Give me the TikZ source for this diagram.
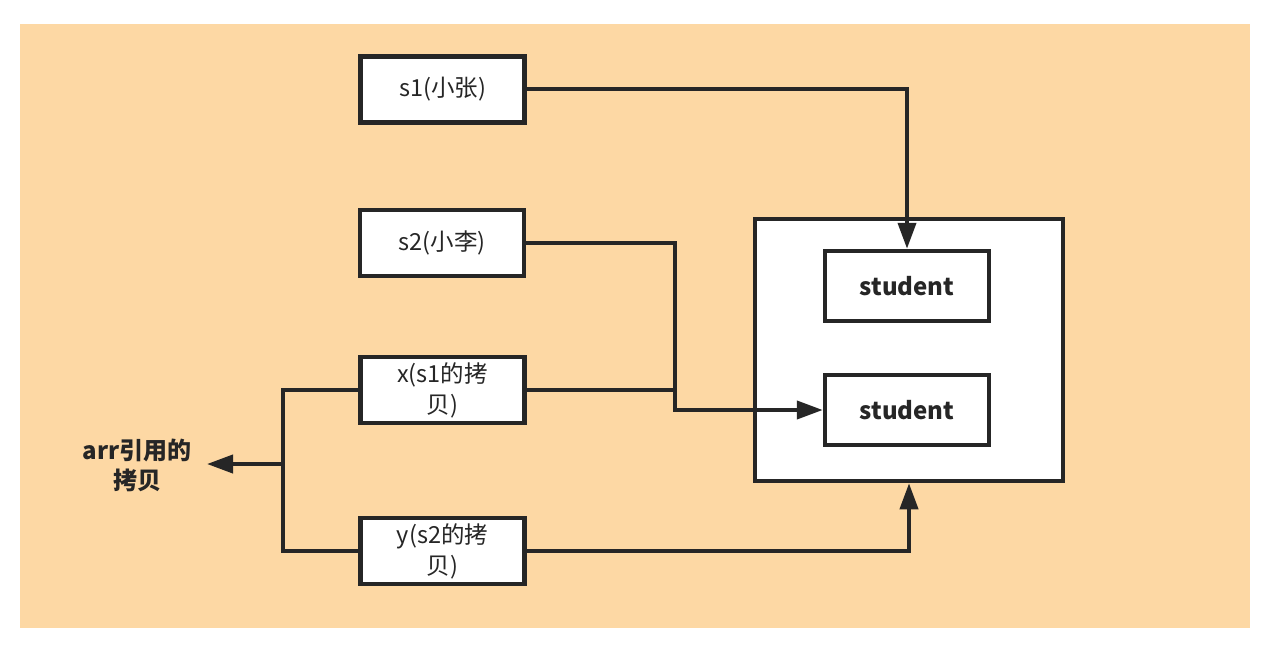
\documentclass[tikz,border=0pt]{standalone}
\usepackage{fontspec}
\newfontfamily\cjk{Noto Sans CJK SC}
\usetikzlibrary{arrows.meta}
\definecolor{bgc}{RGB}{253,216,164}
\definecolor{ink}{RGB}{38,38,38}
\tikzset{
  box/.style={draw=ink, line width=4.5pt, fill=white, minimum width=#1, minimum height=66pt, inner sep=0pt, align=center, font=\cjk\fontsize{23.5}{31}\selectfont, text=ink},
  box/.default=164pt,
  stubox/.style={draw=ink, line width=4.5pt, fill=white, minimum width=164pt, minimum height=70pt, inner sep=0pt, font=\cjk\bfseries\fontsize{24}{30}\selectfont, text=ink},
  wire/.style={draw=ink, line width=4pt},
  arr/.style={wire, -{Triangle[length=26pt,width=18pt]}}
}
\begin{document}
\begin{tikzpicture}[x=1pt,y=-1pt]
\useasboundingbox (0,0) rectangle (1276,650);
\fill[bgc] (20,24) rectangle (1250,628);
\node[draw=ink, line width=4.5pt, fill=white, minimum width=308pt, minimum height=262pt] (big) at (909,350) {};
\node[stubox] (st1) at (907,286) {student};
\node[stubox] (st2) at (907,410) {student};
\node[box] (s1) at (442.5,89.5) {s1(小张)};
\node[box] (s2) at (442,243) {s2(小李)};
\node[box] (x) at (442.5,390) {x(s1的拷\\贝)};
\node[box] (y) at (442.5,551) {y(s2的拷\\贝)};
\node[align=center, inner sep=0pt, font=\cjk\bfseries\fontsize{24}{30}\selectfont, text=ink] (lbl) at (137,465) {arr引用的\\拷贝};
\coordinate (j) at (675,410);
\coordinate (k) at (283,464);
\coordinate (t) at (207,464);
\draw[arr] (s1.east) -| (st1.north);
\draw[arr] (s2.east) -| (j) -- (st2.west);
\draw[wire] (x.east) -- (x.east -| j);
\draw[arr] (y.east) -| (big.south);
\draw[wire] (x.west) -| (k) |- (y.west);
\draw[arr] (k) -- (t);
\end{tikzpicture}
\end{document}
